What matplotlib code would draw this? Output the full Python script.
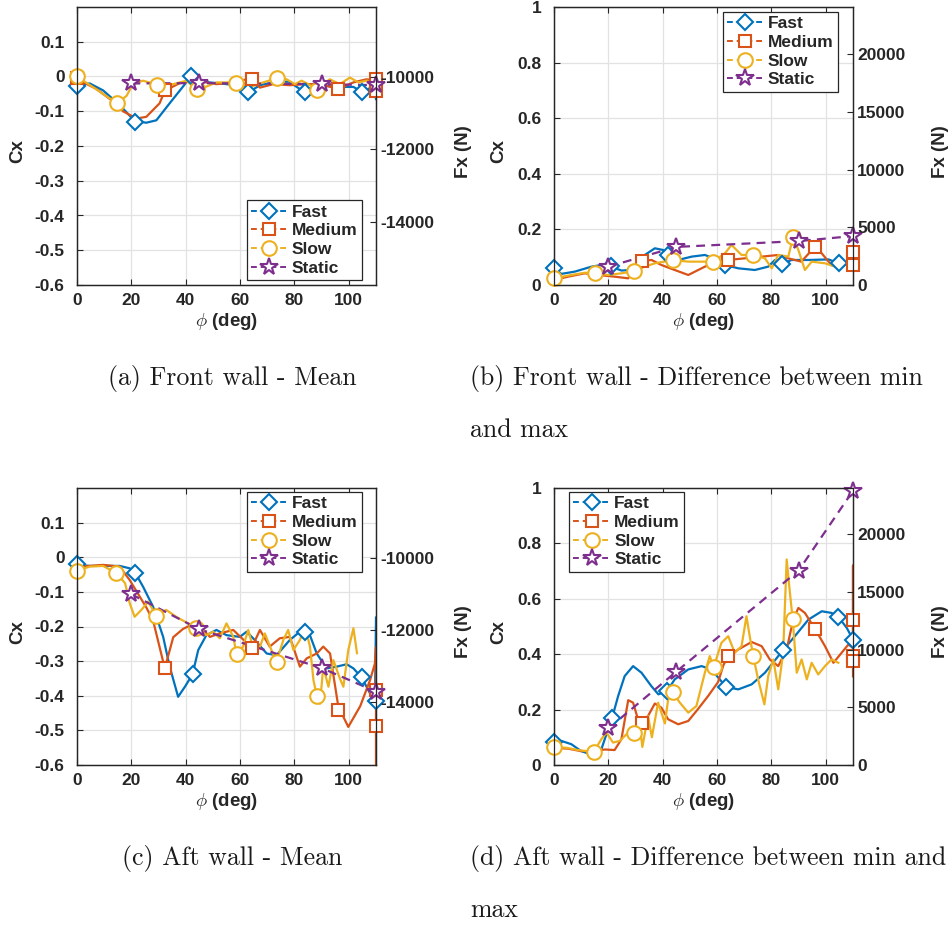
import numpy as np
import matplotlib.pyplot as plt
from matplotlib.lines import Line2D
from matplotlib.transforms import Bbox, TransformedBbox

plt.rcParams['font.family'] = ['Liberation Sans', 'DejaVu Sans']
plt.rcParams['font.weight'] = 'bold'
plt.rcParams['axes.labelweight'] = 'bold'
plt.rcParams['mathtext.fontset'] = 'cm'
plt.rcParams['axes.unicode_minus'] = False

C_FAST = '#0072BD'
C_MED = '#D95319'
C_SLOW = '#EDB120'
C_STAT = '#7E2F8E'
INK = '#262626'

series_names = ['Fast', 'Medium', 'Slow', 'Static']

# ---------------- (a) front wall, mean ----------------
fast_a = [(0, -0.025), (4.7, -0.02), (9.6, -0.04), (15.7, -0.082), (21.2, -0.128), (25.5, -0.133),
          (29.2, -0.126), (34.1, -0.077), (39, -0.029), (42.1, 0.003), (46.4, -0.015), (52.5, -0.02),
          (58.7, -0.025), (63, -0.046), (67.3, -0.025), (73.4, -0.015), (78, -0.015), (83.9, -0.046),
          (88.2, -0.025), (95.5, -0.03), (101.7, -0.03), (105, -0.045), (109, -0.028), (110, -0.065)]
fast_a_mk = [(0, -0.027), (21.2, -0.13), (42.1, 0.0), (63, -0.046), (83.9, -0.046), (105, -0.045)]
med_a = [(0, -0.008), (7, -0.035), (14.7, -0.08), (16.9, -0.1), (21.9, -0.121), (25.5, -0.116),
         (30.4, -0.077), (32.3, -0.041), (37.8, -0.019), (44, -0.012), (51.3, -0.022), (57.5, -0.017),
         (62.4, -0.008), (64.2, -0.008), (67.3, -0.032), (72.2, -0.022), (78.3, -0.025), (84.5, -0.022),
         (89.4, -0.022), (94.3, -0.032), (96.1, -0.035), (101.7, -0.017), (106.5, -0.008),
         (110, -0.012), (110, -0.045)]
med_a_mk = [(0, -0.005), (32.3, -0.038), (64.2, -0.008), (96.1, -0.035), (110, -0.006), (110, -0.041)]
slow_a = [(0, 0.0), (7.1, -0.037), (14.7, -0.077), (18.2, -0.056), (20.6, -0.022), (24.3, -0.012),
          (29.5, -0.024), (35.4, -0.022), (40.3, -0.012), (44, -0.037), (47.6, -0.029), (51.3, -0.017),
          (54.9, -0.017), (58.4, -0.02), (61.2, -0.025), (64.8, -0.027), (68.5, -0.017), (73.4, -0.005),
          (77.1, -0.008), (80.2, -0.022), (82.6, -0.012), (85.1, -0.022), (88.2, -0.038), (93, -0.008),
          (96.7, -0.022), (100.4, -0.003), (103.5, -0.017), (106.6, -0.012)]
slow_a_mk = [(0, 0.0), (14.7, -0.077), (29.5, -0.024), (44, -0.037), (58.4, -0.02), (73.4, -0.005),
             (88.2, -0.038)]
static_a = [(20, -0.02), (45, -0.019), (90, -0.022), (110, -0.025)]

# ---------------- (b) front wall, max - min ----------------
fast_b = [(0, 0.06), (2.7, 0.04), (7.6, 0.048), (13.8, 0.066), (18.7, 0.074), (21, 0.066), (24.8, 0.052),
          (28.5, 0.054), (33.4, 0.108), (37.1, 0.132), (40.1, 0.126), (42, 0.108), (45.7, 0.09),
          (50.6, 0.102), (55.5, 0.108), (60.4, 0.09), (62.9, 0.072), (67.8, 0.06), (73.9, 0.054),
          (78.8, 0.066), (81.3, 0.09), (83.7, 0.075), (87.4, 0.09), (93.6, 0.09), (101, 0.092),
          (104.7, 0.078), (108.3, 0.078), (110, 0.11)]
fast_b_mk = [(0, 0.06), (21, 0.068), (42, 0.108), (62.9, 0.072), (83.7, 0.075), (104.7, 0.078)]
med_b = [(0, 0.018), (5.2, 0.03), (11.3, 0.042), (16.2, 0.036), (22.3, 0.03), (27.3, 0.024), (31, 0.078),
         (32.5, 0.086), (35.9, 0.09), (39.5, 0.072), (44.4, 0.054), (49.4, 0.036), (55.5, 0.066),
         (60.4, 0.084), (64, 0.09), (70.2, 0.096), (76.4, 0.102), (82.5, 0.108), (86.2, 0.096),
         (91, 0.084), (96, 0.138), (98.5, 0.114), (102, 0.072), (105.8, 0.066), (110, 0.09), (110, 0.12)]
med_b_mk = [(32.5, 0.086), (64, 0.09), (96, 0.138), (110, 0.12), (110, 0.072)]
slow_b = [(0, 0.024), (6.4, 0.036), (11.3, 0.044), (15, 0.042), (19.9, 0.036), (24.8, 0.042), (29.5, 0.05),
          (33.4, 0.066), (37.1, 0.078), (43.8, 0.09), (49.4, 0.084), (54.3, 0.084), (58.6, 0.084),
          (62.9, 0.114), (65.3, 0.144), (69, 0.108), (73.3, 0.108), (77.6, 0.096), (80.1, 0.06),
          (82.5, 0.108), (86.2, 0.102), (88, 0.174), (89.9, 0.126), (92.3, 0.054), (94.8, 0.084),
          (99.7, 0.078), (103.4, 0.066)]
slow_b_mk = [(0, 0.024), (15, 0.042), (29.5, 0.05), (43.8, 0.09), (58.6, 0.084), (73.3, 0.108), (88, 0.174)]
static_b = [(20, 0.066), (45, 0.137), (90, 0.158), (110, 0.176)]

# ---------------- (c) aft wall, mean ----------------
fast_c = [(0, -0.022), (4.7, -0.025), (9.6, -0.025), (15.7, -0.025), (19.4, -0.032), (21.5, -0.046),
          (24.3, -0.085), (28, -0.143), (31.7, -0.23), (34.1, -0.316), (37.2, -0.403), (39.7, -0.374),
          (42.5, -0.338), (44.6, -0.268), (47.6, -0.225), (51.3, -0.21), (55, -0.225), (59.9, -0.23),
          (62.4, -0.215), (65.4, -0.239), (69.8, -0.278), (73.4, -0.283), (78.3, -0.239), (82, -0.215),
          (84.5, -0.2), (88.2, -0.278), (91.8, -0.321), (95.5, -0.316), (99.2, -0.309), (101.7, -0.321),
          (104.7, -0.347), (107.8, -0.393), (109.6, -0.432), (110, -0.174)]
fast_c_mk = [(0, -0.02), (21.5, -0.046), (42.5, -0.338), (84, -0.215), (104.7, -0.347), (110, -0.415)]
med_c = [(0, -0.027), (4.7, -0.025), (9.6, -0.022), (15.7, -0.027), (19.4, -0.066), (25.5, -0.145),
         (28, -0.183), (30.4, -0.26), (32.3, -0.321), (35.4, -0.231), (39, -0.207), (42.7, -0.193),
         (45.2, -0.2), (48.9, -0.23), (52.5, -0.22), (57.5, -0.21), (61.3, -0.239), (64.2, -0.263),
         (67.3, -0.21), (70.9, -0.258), (74.6, -0.234), (78.3, -0.23), (82, -0.316), (84.5, -0.292),
         (88.2, -0.278), (90.6, -0.258), (93.1, -0.278), (96.1, -0.43), (99.8, -0.49), (104.2, -0.43),
         (107.8, -0.355), (109.6, -0.307), (110, -0.26), (110, -0.6)]
med_c_mk = [(32.3, -0.321), (64.2, -0.263), (96.1, -0.44), (110, -0.384), (110, -0.487)]
slow_c = [(0, -0.039), (4.7, -0.027), (9.6, -0.025), (14.5, -0.046), (17.7, -0.075), (19.4, -0.133),
          (21.2, -0.172), (23.7, -0.152), (26.2, -0.128), (29.2, -0.17), (32.8, -0.152), (36.5, -0.172),
          (39.7, -0.186), (43.7, -0.203), (47.6, -0.225), (50.1, -0.215), (52.5, -0.234), (55, -0.191),
          (57.5, -0.23), (58.7, -0.28), (61.1, -0.258), (63, -0.21), (65, -0.268), (67.3, -0.258),
          (69.1, -0.22), (71, -0.258), (73.4, -0.302), (75.9, -0.239), (77.7, -0.21), (79.6, -0.268),
          (82, -0.239), (83.9, -0.2), (85.7, -0.258), (87, -0.355), (88.2, -0.4), (89.4, -0.423),
          (90.6, -0.316), (92.5, -0.374), (94.3, -0.297), (96.7, -0.35), (98, -0.374), (99.8, -0.268),
          (101.7, -0.205), (103, -0.277)]
slow_c_mk = [(0, -0.039), (14.5, -0.046), (29.2, -0.17), (43.7, -0.203), (58.7, -0.28), (73.4, -0.302),
             (88.2, -0.4)]
static_c = [(20, -0.107), (45, -0.208), (90, -0.32), (110, -0.388)]

# ---------------- (d) aft wall, max - min ----------------
fast_d = [(0, 0.083), (2.7, 0.087), (6.4, 0.075), (10, 0.05), (13.7, 0.038), (17.4, 0.056), (19.9, 0.129),
          (21.4, 0.171), (23.6, 0.249), (26, 0.321), (29.1, 0.357), (32.2, 0.333), (35.8, 0.285),
          (38.4, 0.255), (41.7, 0.268), (44.4, 0.309), (49.4, 0.345), (54.3, 0.357), (57.9, 0.345),
          (61, 0.309), (63.2, 0.282), (67.8, 0.273), (72.7, 0.291), (77.6, 0.333), (82.5, 0.393),
          (84.3, 0.415), (88.6, 0.465), (93.6, 0.525), (98.5, 0.555), (102.1, 0.549), (104.6, 0.535),
          (107.7, 0.495), (110, 0.453)]
fast_d_mk = [(0, 0.083), (21.4, 0.171), (41.7, 0.268), (63.2, 0.282), (84.3, 0.415), (104.6, 0.535),
             (110, 0.453)]
med_d = [(0, 0.062), (5.2, 0.059), (10, 0.05), (15, 0.05), (18.7, 0.056), (22.3, 0.054), (24.8, 0.093),
         (27.3, 0.234), (29.1, 0.225), (30.9, 0.165), (32.2, 0.153), (34.6, 0.177), (37.1, 0.222),
         (39.5, 0.207), (42, 0.165), (45.7, 0.147), (49.4, 0.159), (52.9, 0.201), (56.7, 0.249),
         (60.4, 0.3), (62.3, 0.36), (64.1, 0.393), (67.8, 0.417), (72.7, 0.444), (76.4, 0.429),
         (79.4, 0.381), (82.5, 0.357), (85.6, 0.417), (88, 0.525), (89.9, 0.567), (92.3, 0.549),
         (96, 0.492), (99.7, 0.429), (102.8, 0.369), (105.8, 0.405), (108.3, 0.435), (110, 0.423),
         (110, 0.72), (110, 0.32)]
med_d_mk = [(32.2, 0.153), (64.1, 0.393), (96, 0.492), (110, 0.525), (110, 0.395), (110, 0.375)]
slow_d = [(0, 0.065), (4.7, 0.062), (8.8, 0.054), (14.6, 0.047), (17.4, 0.093), (19.3, 0.117),
          (21.7, 0.081), (24.2, 0.087), (27.3, 0.117), (29.5, 0.117), (31.6, 0.14), (32.5, 0.065),
          (34.6, 0.177), (36, 0.1), (38.3, 0.225), (40.8, 0.15), (42, 0.237), (43.6, 0.264), (46.3, 0.225),
          (49.4, 0.189), (52.4, 0.213), (55.5, 0.333), (57.3, 0.393), (58.8, 0.355), (61.6, 0.441),
          (64.1, 0.465), (66.5, 0.405), (69, 0.429), (70.8, 0.537), (72, 0.465), (73.3, 0.393),
          (75.1, 0.309), (77.4, 0.219), (78.8, 0.321), (80.7, 0.381), (82.5, 0.273), (84.3, 0.405),
          (85.6, 0.742), (86.8, 0.621), (87.8, 0.528), (89.3, 0.333), (91.1, 0.381), (93, 0.309),
          (94.8, 0.369), (97.2, 0.327), (99.7, 0.357), (102.1, 0.381), (104.6, 0.369)]
slow_d_mk = [(0, 0.065), (14.6, 0.047), (29.5, 0.117), (43.6, 0.264), (58.8, 0.355), (73.3, 0.393),
             (87.8, 0.528)]
static_d = [(20, 0.132), (45, 0.337), (90, 0.702), (110, 0.99)]

x_ticks = [0, 20, 40, 60, 80, 100]
cx_ticks_mean = [-0.6, -0.5, -0.4, -0.3, -0.2, -0.1, 0, 0.1]
cx_labels_mean = ['-0.6', '-0.5', '-0.4', '-0.3', '-0.2', '-0.1', '0', '0.1']
cx_ticks_diff = [0, 0.2, 0.4, 0.6, 0.8, 1]
cx_labels_diff = ['0', '0.2', '0.4', '0.6', '0.8', '1']
fx_ticks_mean = [-14000, -12000, -10000]
fx_ticks_diff = [0, 5000, 10000, 15000, 20000]

# caption lines: (x px, y px, alignment, text)
caption_lines = [(232, 378, 'center', '(a) Front wall - Mean'),
                 (470, 378, 'left', '(b) Front wall - Difference between min'),
                 (470, 430, 'left', 'and max'),
                 (232, 858, 'center', '(c) Aft wall - Mean'),
                 (470, 858, 'left', '(d) Aft wall - Difference between min and'),
                 (470, 910, 'left', 'max')]

W, H = 951, 925
fig = plt.figure(figsize=(W / 100, H / 100), dpi=100)

FS_TICK = 12.5
FS_LABEL = 13.5


def xy(pts):
    a = np.array(pts, dtype=float)
    return a[:, 0], a[:, 1]


def panel(rect, data, ylim, yticks, ylabels, fxlim, fxticks, leg_loc, leg_anchor, clip_right):
    ax = fig.add_axes([rect[0] / W, 1 - rect[3] / H, (rect[2] - rect[0]) / W, (rect[3] - rect[1]) / H])
    (fast, fast_mk, med, med_mk, slow, slow_mk, stat) = data
    for pts, col in [(fast, C_FAST), (med, C_MED), (slow, C_SLOW)]:
        x, y = xy(pts)
        ax.plot(x, y, '-', color=col, lw=1.6, zorder=2)
    x, y = xy(stat)
    ax.plot(x, y, color=C_STAT, lw=1.6, ls=(0, (4, 2.8)), zorder=3)
    for pts, col, mk, ms in [(fast_mk, C_FAST, 'D', 8), (med_mk, C_MED, 's', 9),
                             (slow_mk, C_SLOW, 'o', 10.5), (stat, C_STAT, '*', 13)]:
        x, y = xy(pts)
        ax.plot(x, y, ls='none', marker=mk, ms=ms, mfc='white', mec=col, mew=1.5, zorder=4,
                clip_on=False)

    ax.set_xlim(0, 110)
    ax.set_ylim(*ylim)
    ax.set_xticks(x_ticks)
    ax.set_yticks(yticks)
    ax.set_yticklabels(ylabels)
    ax.grid(True, color='#e2e2e2', lw=0.9)
    ax.set_axisbelow(True)
    ax.tick_params(axis='both', direction='in', length=4, width=0.8, colors=INK, labelsize=FS_TICK)
    ax.tick_params(axis='y', pad=9)
    ax.tick_params(axis='x', pad=6, top=True)
    for s in ax.spines.values():
        s.set_color(INK)
        s.set_linewidth(0.9)
    ax.set_xlabel(r'$\phi$ (deg)', fontsize=FS_LABEL, color=INK, labelpad=2)
    ax.set_ylabel('Cx', fontsize=FS_LABEL, color=INK)
    ax.yaxis.set_label_coords(-0.17 if rect[0] < 300 else -0.155, 0.48)

    ax2 = ax.twinx()
    ax2.set_ylim(*fxlim)
    ax2.set_yticks(fxticks)
    ax2.tick_params(axis='y', direction='in', length=4, width=0.8, colors=INK, labelsize=FS_TICK, pad=3)
    for s in ax2.spines.values():
        s.set_color(INK)
        s.set_linewidth(0.9)
    ax2.set_ylabel('Fx (N)', fontsize=FS_LABEL, color=INK)
    ax2.yaxis.set_label_coords(1.265, 0.48)
    if clip_right:
        ax2.yaxis.label.set_clip_box(TransformedBbox(Bbox([[0, 0], [475 / W, 1]]), fig.transFigure))
        ax2.yaxis.label.set_clip_on(True)

    handles = [Line2D([], [], color=c, lw=1.4, ls=(0, (3, 2)), marker=m, ms=s, mfc='white', mec=c, mew=1.5)
               for c, m, s in [(C_FAST, 'D', 8), (C_MED, 's', 9), (C_SLOW, 'o', 10.5), (C_STAT, '*', 13)]]
    leg = ax2.legend(handles, series_names, loc=leg_loc, bbox_to_anchor=leg_anchor, fontsize=FS_TICK,
                     frameon=True, fancybox=False, framealpha=1, edgecolor=INK, handlelength=2.1,
                     handletextpad=0.25, labelspacing=0.2, borderpad=0.25, borderaxespad=0)
    leg.get_frame().set_linewidth(0.9)
    for t in leg.get_texts():
        t.set_color(INK)
    return ax


panel((77, 7, 376, 285), (fast_a, fast_a_mk, med_a, med_a_mk, slow_a, slow_a_mk, static_a),
      (-0.6, 0.2), cx_ticks_mean, cx_labels_mean, (-15750, -8060), fx_ticks_mean,
      'lower right', (0.953, 0.018), True)
panel((554, 7, 853, 285), (fast_b, fast_b_mk, med_b, med_b_mk, slow_b, slow_b_mk, static_b),
      (0, 1), cx_ticks_diff, cx_labels_diff, (0, 24100), fx_ticks_diff,
      'upper right', (0.95, 0.982), False)
panel((77, 488, 376, 765), (fast_c, fast_c_mk, med_c, med_c_mk, slow_c, slow_c_mk, static_c),
      (-0.6, 0.2), cx_ticks_mean, cx_labels_mean, (-15750, -8060), fx_ticks_mean,
      'upper right', (0.953, 0.986), True)
panel((554, 488, 853, 765), (fast_d, fast_d_mk, med_d, med_d_mk, slow_d, slow_d_mk, static_d),
      (0, 1), cx_ticks_diff, cx_labels_diff, (0, 24000), fx_ticks_diff,
      'upper left', (0.05, 0.986), False)

for cx, cy, ha, txt in caption_lines:
    fig.text(cx / W, 1 - cy / H, txt, ha=ha, va='center', fontfamily='cmr10', fontsize=18.6,
             fontweight='normal', color='#1a1a1a')

fig.savefig('out.png', dpi=100, facecolor='white')
